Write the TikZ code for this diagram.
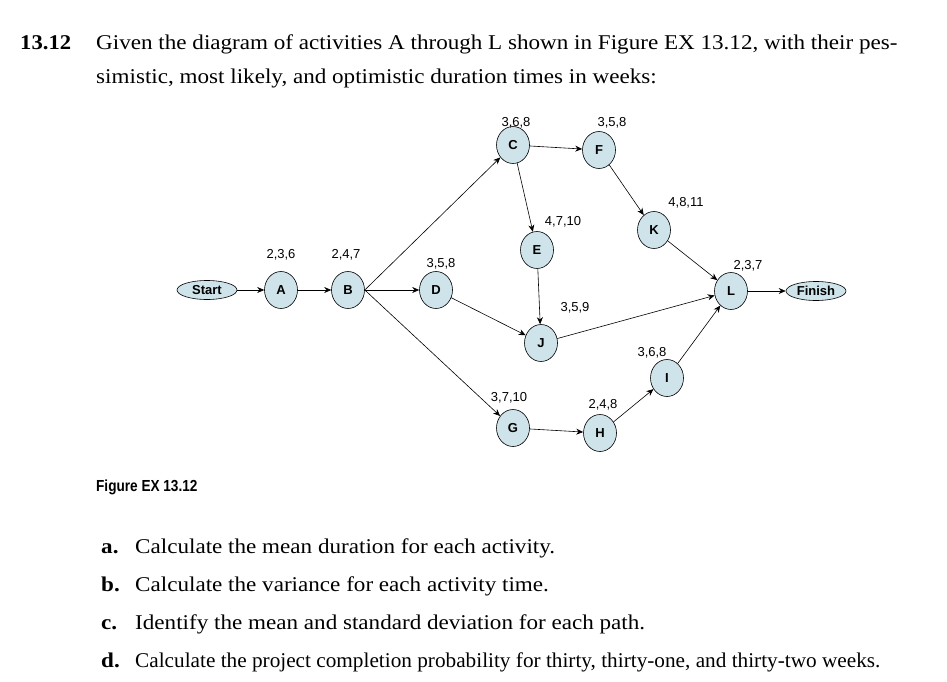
\documentclass[tikz,border=0pt]{standalone}
\usepackage{fontspec}
\setmainfont{Liberation Serif}
\newfontfamily\arialf{Liberation Sans}
\usetikzlibrary{arrows.meta,shapes.geometric}
\definecolor{nfill}{HTML}{CFE3EA}
\begin{document}
\begin{tikzpicture}[x=1pt,y=-1pt,
  term/.style={ellipse,draw=black,line width=0.6pt,fill=nfill,minimum width=60pt,minimum height=19pt,inner sep=0pt,font=\arialf\bfseries\fontsize{13}{13}\selectfont},
  nd/.style={ellipse,draw=black,line width=0.6pt,fill=nfill,minimum width=33pt,minimum height=37pt,inner sep=0pt,font=\arialf\bfseries\fontsize{13}{13}\selectfont},
  lab/.style={font=\arialf\fontsize{13}{13}\selectfont,inner sep=0pt},
  con/.style={-{Stealth[length=7pt,width=6pt]},line width=0.6pt},
  txt/.style={anchor=base west,inner sep=0pt,font=\fontsize{21}{24}\selectfont,xscale=1.1}]
\useasboundingbox (0,0) rectangle (947,682);
\node[txt,xscale=0.98] (t0) at (20,50) {\textbf{13.12}};
\node[txt,xscale=1.0] (t1) at (96,50) {Given the diagram of activities A through L shown in Figure EX 13.12, with their pes-};
\node[txt] (t2) at (96,84) {simistic, most likely, and optimistic duration times in weeks:};
\node[anchor=base west,inner sep=0pt,font=\arialf\bfseries\fontsize{16}{16}\selectfont,xscale=0.85] (fig) at (96,491) {Figure EX 13.12};
\node[txt] (qa) at (101,553) {\textbf{a.}}; \node[txt] (ta) at (135,553) {Calculate the mean duration for each activity.};
\node[txt] (qb) at (101,591) {\textbf{b.}}; \node[txt] (tb) at (135,591) {Calculate the variance for each activity time.};
\node[txt] (qc) at (101,629) {\textbf{c.}}; \node[txt] (tc) at (135,629) {Identify the mean and standard deviation for each path.};
\node[txt] (qd) at (101,667) {\textbf{d.}}; \node[txt,xscale=0.92] (td) at (135,667) {Calculate the project completion probability for thirty, thirty-one, and thirty-two weeks.};
% nodes
\node[term] (S) at (207,290) {Start};
\node[term] (Fi) at (816,291) {Finish};
\node[nd] (A) at (281,290) {A};
\node[nd] (B) at (348,290) {B};
\node[nd] (D) at (436,290) {D};
\node[nd] (C) at (513,145) {C};
\node[nd] (F) at (599,150) {F};
\node[nd] (E) at (537,250) {E};
\node[nd] (J) at (541,343) {J};
\node[nd] (K) at (654,230) {K};
\node[nd] (L) at (731,291) {L};
\node[nd] (I) at (667,378) {I};
\node[nd] (G) at (513,428) {G};
\node[nd] (H) at (600,433) {H};
% labels
\node[lab] (lA) at (281,255) {2,3,6};
\node[lab] (lB) at (346,255) {2,4,7};
\node[lab] (lD) at (441,264) {3,5,8};
\node[lab] (lC) at (516,123) {3,6,8};
\node[lab] (lF) at (612,123) {3,5,8};
\node[lab] (lE) at (563,222) {4,7,10};
\node[lab] (lJ) at (575,308) {3,5,9};
\node[lab] (lK) at (686,203) {4,8,11};
\node[lab] (lL) at (748,266) {2,3,7};
\node[lab] (lI) at (652,353) {3,6,8};
\node[lab] (lG) at (509,398) {3,7,10};
\node[lab] (lH) at (603,405) {2,4,8};
% edges
\draw[con] (S) -- (A);
\draw[con] (A) -- (B);
\draw[con] (B) -- (D);
\draw[con] (B.east) -- (C);
\draw[con] (B.east) -- (G);
\draw[con] (C) -- (F);
\draw[con] (C) -- (E);
\draw[con] (F) -- (K);
\draw[con] (E) -- (J);
\draw[con] (D) -- (J);
\draw[con] (J) -- (L);
\draw[con] (K) -- (L);
\draw[con] (I) -- (L);
\draw[con] (G) -- (H);
\draw[con] (H) -- (I);
\draw[con] (L) -- (Fi);
\end{tikzpicture}
\end{document}
